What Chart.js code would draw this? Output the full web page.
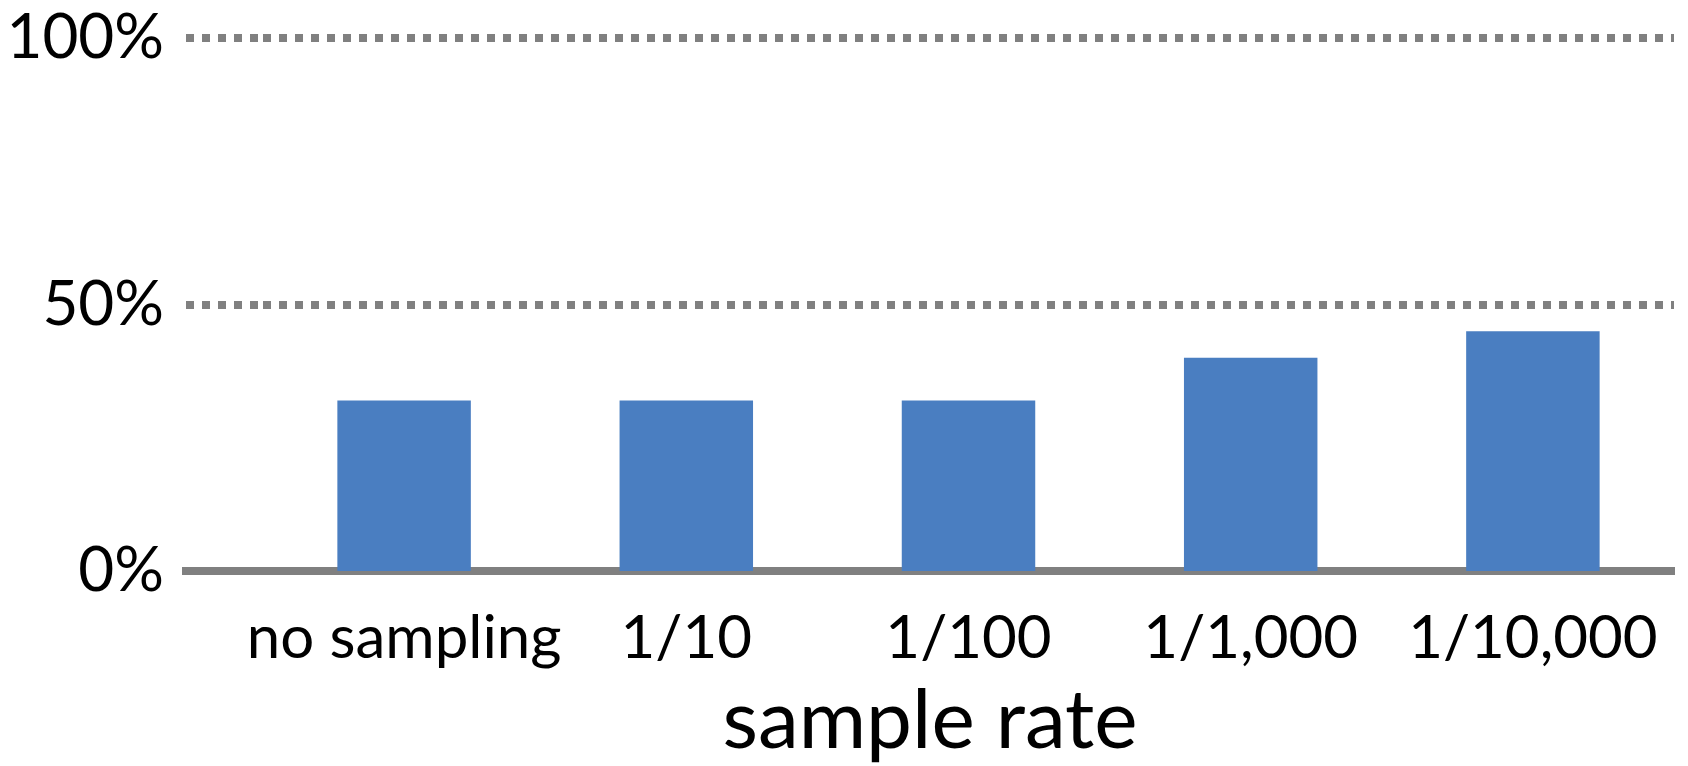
<!DOCTYPE html>
<html>
<head>
<meta charset="utf-8">
<script src="https://cdn.jsdelivr.net/npm/chart.js@4"></script>
<style>
  html, body { margin: 0; padding: 0; background: #fff; }
  #wrap { width: 1688px; height: 766px; }
</style>
</head>
<body>
<div id="wrap"><canvas id="chart"></canvas></div>
<script>
let labels = ["no sampling", "1/10", "1/100", "1/1,000", "1/10,000"];
let values = [32, 32, 32, 40, 45];
let yTicks = [0, 50, 100];
let axisTitle = "sample rate";

let gray = "#808080";
let fontFamily = "Lato, 'Open Sans', sans-serif";
let tickLen = 77;

let ctx = document.querySelector("#chart").getContext("2d");

// zero line is solid, the others are the square-dot gridlines
const isZero = (c) => c.tick && c.tick.value === 0;

// the axis line (and its title) start where the gridlines start,
// left of the bar area, like the original
const stretchAxis = {
  id: "stretchAxis",
  afterLayout(chart) {
    chart.scales.x.left = chart.scales.y.right - tickLen;
  },
};

let chart = new Chart(ctx, {
  type: "bar",
  data: {
    labels: labels,
    datasets: [
      {
        data: values,
        backgroundColor: "#4A7EC1",
        borderWidth: 0,
        barPercentage: 0.473,
        categoryPercentage: 1,
      },
    ],
  },
  plugins: [stretchAxis],
  options: {
    responsive: true,
    maintainAspectRatio: false,
    animation: false,
    layout: { padding: { top: 38, right: 14, left: 0, bottom: 0 } },
    plugins: {
      legend: { display: false },
      tooltip: { enabled: false },
    },
    scales: {
      x: {
        z: 1,
        grid: { display: false, drawTicks: false },
        border: { display: true, color: gray, width: 8 },
        ticks: {
          color: "#000",
          font: { family: fontFamily, size: 60, lineHeight: 2 },
          padding: 8,
          autoSkip: false,
          maxRotation: 0,
        },
        title: {
          display: true,
          text: axisTitle,
          color: "#000",
          font: { family: fontFamily, size: 82, lineHeight: 1 },
          padding: { top: 0, bottom: 3 },
        },
        afterFit: (scale) => {
          scale.height = 195;
        },
      },
      y: {
        min: 0,
        max: 100,
        afterBuildTicks: (scale) => {
          scale.ticks = yTicks.map((v) => ({ value: v }));
        },
        ticks: {
          color: "#000",
          font: { family: fontFamily, size: 62, lineHeight: 0.4 },
          padding: 22,
          callback: (v) => v + "%",
        },
        grid: {
          color: gray,
          lineWidth: (c) => (isZero(c) ? 0 : 8),
          tickLength: tickLen,
          tickColor: gray,
          tickWidth: 8,
          tickBorderDash: (c) => (isZero(c) ? [] : [8, 8]),
        },
        border: { display: false, dash: [8, 8] },
        afterFit: (scale) => {
          scale.width = 263;
        },
      },
    },
  },
});
</script>
</body>
</html>
